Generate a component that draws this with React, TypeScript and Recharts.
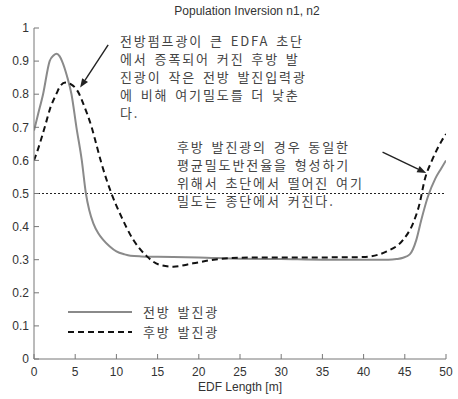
import React from 'react';
import {
  LineChart, Line, XAxis, YAxis, ReferenceLine,
} from 'recharts';

// 전방 발진광 (solid)
const forwardX = [0, 0.5, 1.1, 1.9, 2.4, 2.75, 3.1, 3.4, 4.0, 4.55, 5.15, 5.8, 6.3, 6.7, 7.2, 7.8, 8.4, 9.2, 10, 11, 11.7, 13, 15, 20, 25, 30, 35, 40, 43, 44, 44.8, 45.6, 46.4, 47.0, 47.8, 48.7, 49.4, 50];
const forwardY = [0.69, 0.74, 0.8, 0.9, 0.918, 0.922, 0.915, 0.9, 0.855, 0.8, 0.7, 0.6, 0.5, 0.45, 0.41, 0.38, 0.36, 0.34, 0.325, 0.316, 0.312, 0.31, 0.309, 0.307, 0.303, 0.302, 0.3, 0.3, 0.3, 0.302, 0.306, 0.316, 0.36, 0.42, 0.49, 0.545, 0.575, 0.6];

// 후방 발진광 (dashed)
const backwardX = [0, 0.5, 1.3, 2.0, 2.7, 3.2, 3.8, 4.5, 5.5, 6.0, 7.0, 7.6, 8.2, 9.4, 10.6, 12.05, 13.7, 15.3, 16.9, 19.3, 21.8, 25, 30, 35, 40, 40.8, 42.8, 44.8, 46.0, 46.8, 47.4, 48.3, 49.5, 50];
const backwardY = [0.6, 0.635, 0.7, 0.76, 0.8, 0.825, 0.835, 0.83, 0.8, 0.77, 0.7, 0.645, 0.59, 0.5, 0.43, 0.36, 0.31, 0.284, 0.279, 0.289, 0.3, 0.306, 0.307, 0.307, 0.308, 0.31, 0.325, 0.36, 0.41, 0.47, 0.54, 0.6, 0.66, 0.68];

const xTicks = [0, 5, 10, 15, 20, 25, 30, 35, 40, 45, 50];
const yTicks = [0, 0.1, 0.2, 0.3, 0.4, 0.5, 0.6, 0.7, 0.8, 0.9, 1];

const title = 'Population Inversion n1, n2';
const xLabel = 'EDF Length [m]';
const legendNames = ['전방 발진광', '후방 발진광'];

const note1 = [
  '전방펌프광이 큰 EDFA 초단',
  '에서 증폭되어 커진 후방 발',
  '진광이 작은 전방 발진입력광',
  '에 비해 여기밀도를 더 낮춘',
  '다.',
];
const note2 = [
  '후방 발진광의 경우 동일한',
  '평균밀도반전율을 형성하기',
  '위해서 초단에서 떨어진 여기',
  '밀도는 종단에서 커진다.',
];

// 화살표 (데이터 좌표)
const arrow1 = [{ x: 9.0, y: 0.949 }, { x: 5.6, y: 0.82 }];
const arrow2 = [{ x: 42.3, y: 0.625 }, { x: 47.6, y: 0.562 }];

const forward = forwardX.map((x, i) => ({ x, y: forwardY[i] }));
const backward = backwardX.map((x, i) => ({ x, y: backwardY[i] }));

const LATIN = '"Liberation Sans", Arial, sans-serif';
const KOREAN = '"Noto Sans CJK KR", "Noto Sans", sans-serif';
const AXIS = '#777';
const TXT = '#333';

const noteStyle: React.CSSProperties = {
  position: 'absolute',
  fontFamily: KOREAN,
  fontSize: 13,
  lineHeight: '18px',
  letterSpacing: 1.9,
  wordSpacing: 2,
  color: '#444',
  whiteSpace: 'nowrap',
};

function fmtY(v: number) {
  if (v === 0) return '0';
  if (v === 1) return '1';
  return v.toFixed(1);
}

// 화살표 모양
function ArrowShape(props: any) {
  const { x1, y1, x2, y2 } = props;
  if ([x1, y1, x2, y2].some((v) => typeof v !== 'number')) return null;
  const ang = Math.atan2(y2 - y1, x2 - x1);
  const len = 9;
  const wid = 3.5;
  const bx = x2 - len * Math.cos(ang);
  const by = y2 - len * Math.sin(ang);
  const px = -Math.sin(ang) * wid;
  const py = Math.cos(ang) * wid;
  return (
    <g>
      <line x1={x1} y1={y1} x2={bx} y2={by} stroke="#222" strokeWidth={1.4} />
      <polygon points={`${x2},${y2} ${bx + px},${by + py} ${bx - px},${by - py}`} fill="#222" />
    </g>
  );
}

export default function App() {
  return (
    <div style={{ position: 'relative', width: 458, height: 399, background: '#fff' }}>
      <style>{'body { margin: 0; }'}</style>
      <LineChart width={458} height={399} margin={{ top: 28, right: 12, bottom: 0, left: 4 }}>
        <XAxis
          type="number"
          dataKey="x"
          domain={[0, 50]}
          ticks={xTicks}
          height={40}
          tickSize={-5}
          tickMargin={13}
          stroke={AXIS}
          tick={{ fontSize: 12, fill: TXT, fontFamily: LATIN }}
          label={{ value: xLabel, position: 'insideBottom', offset: 8, fontSize: 12, fill: TXT, fontFamily: LATIN }}
          allowDataOverflow
        />
        <XAxis
          xAxisId="top"
          orientation="top"
          type="number"
          dataKey="x"
          domain={[0, 50]}
          ticks={xTicks}
          height={0}
          tickSize={-5}
          stroke={AXIS}
          tickFormatter={() => ''}
          allowDataOverflow
        />
        <YAxis
          type="number"
          domain={[0, 1]}
          ticks={yTicks}
          width={30}
          tickSize={-5}
          tickMargin={10}
          stroke={AXIS}
          tickFormatter={fmtY}
          tick={{ fontSize: 12, fill: TXT, fontFamily: LATIN }}
          allowDataOverflow
        />
        <YAxis
          yAxisId="right"
          orientation="right"
          type="number"
          domain={[0, 1]}
          ticks={yTicks}
          width={0}
          tickSize={-5}
          stroke={AXIS}
          tickFormatter={() => ''}
          allowDataOverflow
        />
        <ReferenceLine y={0.5} stroke="#222" strokeDasharray="2 2" strokeWidth={1} />
        <Line
          data={forward}
          dataKey="y"
          type="monotone"
          stroke="#8a8a8a"
          strokeWidth={2}
          dot={false}
          isAnimationActive={false}
        />
        <Line
          data={backward}
          dataKey="y"
          type="monotone"
          stroke="#111"
          strokeWidth={2}
          strokeDasharray="6 4"
          dot={false}
          isAnimationActive={false}
        />
        <ReferenceLine segment={arrow1} shape={ArrowShape} />
        <ReferenceLine segment={arrow2} shape={ArrowShape} />
      </LineChart>

      {/* 제목 */}
      <div style={{ position: 'absolute', left: 0, width: 494, top: 4, textAlign: 'center', fontFamily: LATIN, fontSize: 12, color: TXT }}>
        {title}
      </div>

      {/* 주석 */}
      <div style={{ ...noteStyle, left: 120, top: 32 }}>
        {note1.map((t) => <div key={t}>{t}</div>)}
      </div>
      <div style={{ ...noteStyle, left: 177, top: 138 }}>
        {note2.map((t) => <div key={t}>{t}</div>)}
      </div>

      {/* 범례 */}
      <div style={{ ...noteStyle, left: 68, top: 302, lineHeight: '20px' }}>
        {legendNames.map((name, i) => (
          <div key={name} style={{ display: 'flex', alignItems: 'center', height: 20 }}>
            <svg width={64} height={6} style={{ marginRight: 11 }}>
              <line
                x1={0} y1={3} x2={64} y2={3}
                stroke={i === 0 ? '#8a8a8a' : '#111'}
                strokeWidth={2}
                strokeDasharray={i === 0 ? undefined : '6 4'}
              />
            </svg>
            <span>{name}</span>
          </div>
        ))}
      </div>
    </div>
  );
}
